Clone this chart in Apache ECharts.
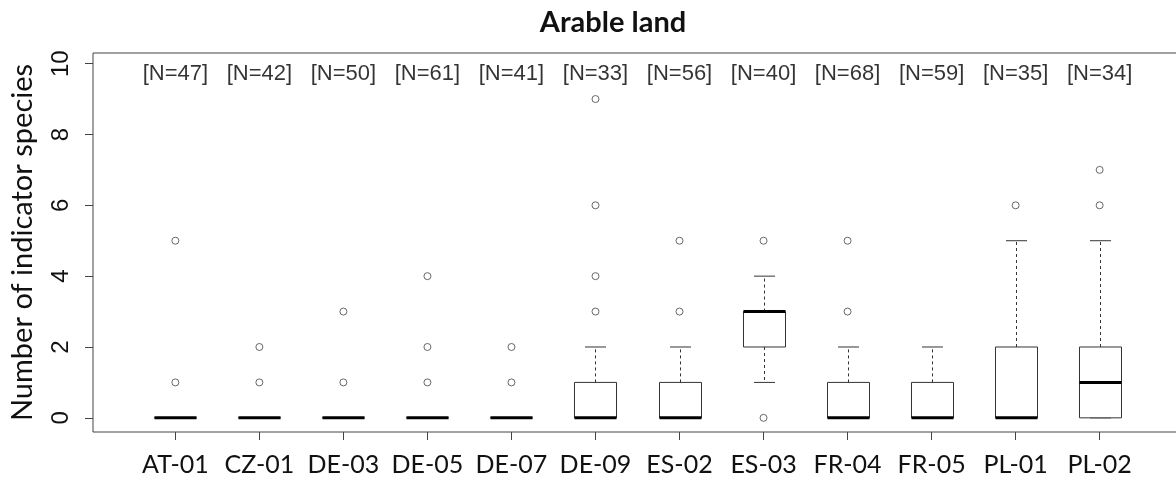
<!DOCTYPE html>
<html>
<head>
<meta charset="utf-8">
<script src="https://cdn.jsdelivr.net/npm/echarts@6/dist/echarts.min.js"></script>
<style>
  html, body { margin: 0; padding: 0; background: #fff; }
  #chart { width: 1176px; height: 479px; }
</style>
</head>
<body>
<div id="chart"></div>
<script>
  // sites and sample sizes
  var sites = ['AT-01', 'CZ-01', 'DE-03', 'DE-05', 'DE-07', 'DE-09', 'ES-02', 'ES-03', 'FR-04', 'FR-05', 'PL-01', 'PL-02'];
  var nCounts = [47, 42, 50, 61, 41, 33, 56, 40, 68, 59, 35, 34];

  // box statistics per site
  var whiskerLow  = [0, 0, 0, 0, 0, 0, 0, 1, 0, 0, 0, 0];
  var q1          = [0, 0, 0, 0, 0, 0, 0, 2, 0, 0, 0, 0];
  var medians     = [0, 0, 0, 0, 0, 0, 0, 3, 0, 0, 0, 1];
  var q3          = [0, 0, 0, 0, 0, 1, 1, 3, 1, 1, 2, 2];
  var whiskerHigh = [0, 0, 0, 0, 0, 2, 2, 4, 2, 2, 5, 5];

  // outliers per site
  var outliers = [[1, 5], [1, 2], [1, 3], [1, 2, 4], [1, 2], [3, 4, 6, 9], [3, 5], [0, 5], [3, 5], [], [6], [6, 7]];

  var yTicks = [0, 2, 4, 6, 8, 10];
  var nLabelY = 9.7;

  var boxData = [];
  var outlierData = [];
  var nData = [];
  var xTicks = [];
  for (var i = 0; i < sites.length; i++) {
    boxData.push([i + 1, whiskerLow[i], q1[i], medians[i], q3[i], whiskerHigh[i]]);
    outliers[i].forEach(function (v) { outlierData.push([i + 1, v]); });
    nData.push([i + 1, nLabelY, nCounts[i]]);
    xTicks.push(i + 1);
  }

  function renderBox(params, api) {
    var x = api.value(0);
    var lo = api.coord([x, api.value(1)]);
    var b1 = api.coord([x, api.value(2)]);
    var md = api.coord([x, api.value(3)]);
    var b3 = api.coord([x, api.value(4)]);
    var hi = api.coord([x, api.value(5)]);
    var halfBox = api.size([0.25, 0])[0];
    var halfCap = api.size([0.125, 0])[0];
    var cx = Math.round(lo[0]) + 0.5;
    var stroke = { stroke: '#333', lineWidth: 1, fill: null };
    var dashed = { stroke: '#333', lineWidth: 1, lineDash: [3, 3] };
    return {
      type: 'group',
      children: [
        { type: 'line', shape: { x1: cx, y1: b3[1], x2: cx, y2: hi[1] }, style: dashed },
        { type: 'line', shape: { x1: cx, y1: b1[1], x2: cx, y2: lo[1] }, style: dashed },
        { type: 'line', shape: { x1: cx - halfCap, y1: hi[1], x2: cx + halfCap, y2: hi[1] }, style: stroke },
        { type: 'line', shape: { x1: cx - halfCap, y1: lo[1], x2: cx + halfCap, y2: lo[1] }, style: stroke },
        { type: 'rect', shape: { x: cx - halfBox, y: b3[1], width: halfBox * 2, height: b1[1] - b3[1] },
          style: { stroke: '#333', lineWidth: 1, fill: '#fff' } },
        { type: 'line', shape: { x1: cx - halfBox, y1: md[1], x2: cx + halfBox, y2: md[1] },
          style: { stroke: '#000', lineWidth: 3 } }
      ]
    };
  }

  var option = {
    backgroundColor: '#fff',
    animation: false,
    title: {
      text: 'Arable land',
      left: 608,
      textAlign: 'center',
      top: 3,
      textStyle: { fontFamily: 'Lato', fontWeight: 'bold', fontSize: 29, color: '#111' }
    },
    grid: {
      left: 93,
      top: 53,
      width: 1089,
      bottom: 47,
      outerBoundsMode: 'none',
      containLabel: false,
      show: true,
      borderColor: '#444',
      borderWidth: 1,
      backgroundColor: 'transparent'
    },
    xAxis: {
      type: 'value',
      min: 0.02,
      max: 12.98,
      splitLine: { show: false },
      axisLine: { show: false, onZero: false },
      axisTick: { show: true, length: 8, inside: false, customValues: xTicks, lineStyle: { color: '#444' } },
      axisLabel: {
        customValues: xTicks,
        margin: 20,
        fontFamily: 'Lato',
        fontSize: 25,
        color: '#111',
        formatter: function (v) { return sites[Math.round(v) - 1]; }
      }
    },
    yAxis: {
      type: 'value',
      min: -0.4,
      max: 10.3,
      name: 'Number of indicator species',
      nameLocation: 'middle',
      nameRotate: 90,
      nameGap: 56,
      nameTextStyle: { fontFamily: 'Lato', fontSize: 29, color: '#111' },
      splitLine: { show: false },
      axisLine: { show: false, onZero: false },
      axisTick: { show: true, length: 8, customValues: yTicks, lineStyle: { color: '#444' } },
      axisLabel: {
        customValues: yTicks,
        rotate: 90,
        margin: 20,
        fontFamily: 'Liberation Sans',
        fontSize: 24,
        color: '#111'
      }
    },
    series: [
      {
        type: 'custom',
        renderItem: renderBox,
        encode: { x: 0, y: [1, 2, 3, 4, 5] },
        data: boxData,
        z: 2
      },
      {
        type: 'scatter',
        symbol: 'circle',
        symbolSize: 7,
        itemStyle: { color: '#fff', borderColor: '#444', borderWidth: 1 },
        data: outlierData,
        z: 3
      },
      {
        type: 'scatter',
        symbolSize: 0,
        data: nData,
        label: {
          show: true,
          position: 'inside',
          fontFamily: 'Liberation Sans',
          fontSize: 22,
          color: '#000',
          formatter: function (p) { return '[N=' + p.value[2] + ']'; }
        },
        z: 4
      }
    ]
  };

  var myChart = echarts.init(document.getElementById('chart'));
  myChart.setOption(option);
</script>
</body>
</html>
